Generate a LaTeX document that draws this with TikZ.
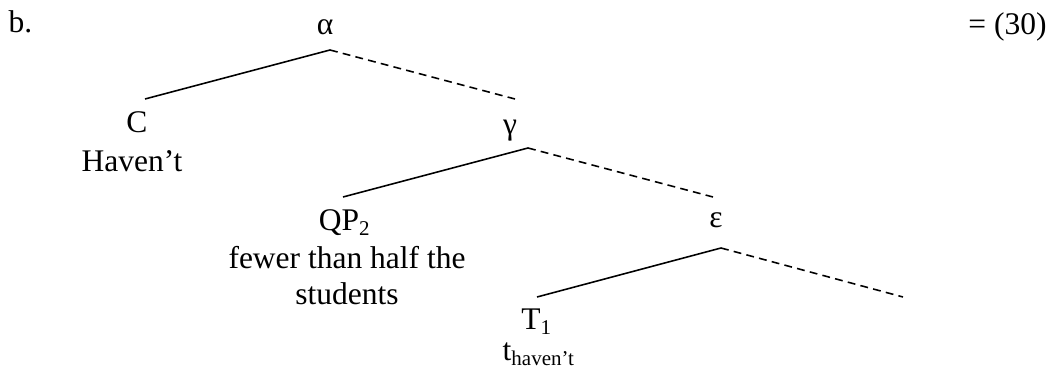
\documentclass[tikz,border=0pt]{standalone}
\usepackage{fontspec}
\setmainfont{Liberation Serif}
\usetikzlibrary{positioning}
\tikzset{
  cat/.style={anchor=base, inner sep=0pt, align=center},
  branch/.style={line width=0.6pt},
  movebranch/.style={line width=0.6pt, dash pattern=on 3pt off 2pt},
}

\begin{document}
\begin{tikzpicture}[x=0.381pt, y=-0.381pt, every node/.style={font=\fontsize{12}{14}\selectfont}]
        \useasboundingbox (0,0) rectangle (1049,369);
        \node[cat, anchor=base west] (ex) at (8,33) {b.};
        \node[cat, anchor=base east] (eq) at (1047,35) {= (30)};
        \node[cat] (alpha) at (325,35) {α};
        \node[cat] (c) at (137,133) {C};
        \node[cat] (c-w) at ([shift={(-5,39)}]c.base) {Haven’t};
        \node[cat] (gamma) at (510,135) {γ};
        \node[cat] (qp) at (345,231) {QP\textsubscript{2}};
        % the last line of a two-line node sits on its base
        \node[cat] (qp-w) at ([shift={(2,74)}]qp.base) {fewer than half the\\students};
        \node[cat] (eps) at (716,228) {ε};
        \node[cat] (t) at (537,330) {T\textsubscript{1}};
        \node[cat] (t-w) at ([shift={(2,31)}]t.base) {t\textsubscript{haven’t}};
        \coordinate (eps-r) at (903,297);
        \draw[branch] ([shift={(5,15)}]alpha.base) -- ([shift={(8,-34)}]c.base);
        \draw[movebranch] ([shift={(5,15)}]alpha.base) -- ([shift={(5,-36)}]gamma.base);
        \draw[branch] ([shift={(18,13)}]gamma.base) -- ([shift={(-2,-34)}]qp.base);
        \draw[movebranch] ([shift={(18,13)}]gamma.base) -- ([shift={(-3,-31)}]eps.base);
        \draw[branch] ([shift={(5,20)}]eps.base) -- ([shift={(0,-33)}]t.base);
        \draw[movebranch] ([shift={(5,20)}]eps.base) -- (eps-r);
      \end{tikzpicture}
\end{document}
